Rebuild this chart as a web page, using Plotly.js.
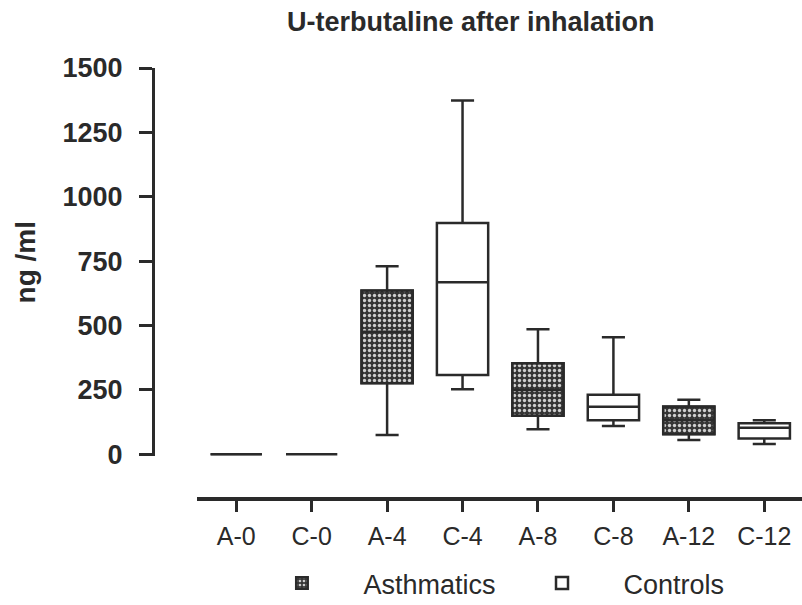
<!DOCTYPE html>
<html>
<head>
<meta charset="utf-8">
<script src="https://cdn.plot.ly/plotly-3.0.1.min.js"></script>
<style>html,body{margin:0;padding:0;background:#fff;}#chart{width:802px;height:605px;}</style>
</head>
<body>
<div id="chart"></div>
<script>
// Category order on the x axis
var categories = ['A-0', 'C-0', 'A-4', 'C-4', 'A-8', 'C-8', 'A-12', 'C-12'];
var yTicks = [0, 250, 500, 750, 1000, 1250, 1500];

// Asthmatics (ng/ml)
var asthX = ['A-0', 'A-4', 'A-8', 'A-12'];
var asthLower = [0, 75, 97, 56];
var asthQ1 = [0, 276, 150, 78];
var asthMedian = [0, 476, 250, 132];
var asthQ3 = [0, 636, 354, 186];
var asthUpper = [0, 730, 486, 212];

// Controls (ng/ml)
var ctrlX = ['C-0', 'C-4', 'C-8', 'C-12'];
var ctrlLower = [0, 253, 110, 40];
var ctrlQ1 = [0, 308, 132, 62];
var ctrlMedian = [0, 668, 185, 103];
var ctrlQ3 = [0, 898, 231, 121];
var ctrlUpper = [0, 1374, 455, 132];

var ink = '#2a2a2a';
var boxW = 0.68;
var fontFam = '"Liberation Sans", Arial, sans-serif';

var asthIQR = asthQ3.map(function (v, i) { return v - asthQ1[i]; });

var traces = [
  {
    type: 'bar', name: 'Asthmatics', x: asthX, y: asthIQR, base: asthQ1,
    width: boxW, showlegend: true, hoverinfo: 'skip',
    marker: {
      color: '#353535',
      line: {color: ink, width: 2},
      pattern: {shape: '.', bgcolor: '#353535', fgcolor: '#cfcfcf', size: 5, solidity: 0.35, fillmode: 'replace'}
    }
  },
  {
    type: 'box', name: 'Asthmatics', x: asthX, q1: asthQ1, median: asthMedian, q3: asthQ3,
    lowerfence: asthLower, upperfence: asthUpper, width: boxW, whiskerwidth: 0.45,
    fillcolor: 'rgba(0,0,0,0)', line: {color: ink, width: 2.5}, showlegend: false, hoverinfo: 'skip'
  },
  {
    type: 'box', name: 'Controls', x: ctrlX, q1: ctrlQ1, median: ctrlMedian, q3: ctrlQ3,
    lowerfence: ctrlLower, upperfence: ctrlUpper, width: boxW, whiskerwidth: 0.45,
    fillcolor: '#ffffff', line: {color: ink, width: 2.5}, showlegend: true, hoverinfo: 'skip'
  }
];

var layout = {
  width: 802, height: 605,
  margin: {l: 153, r: 0, t: 68, b: 106, autoexpand: false},
  paper_bgcolor: '#ffffff', plot_bgcolor: '#ffffff',
  font: {family: fontFam, color: ink},
  title: {
    text: 'U-terbutaline after inhalation',
    font: {family: fontFam, size: 27, weight: 'bold', color: ink},
    x: 0.587, xref: 'container', xanchor: 'center',
    y: 0.965, yref: 'container', yanchor: 'middle'
  },
  xaxis: {
    type: 'category', categoryorder: 'array', categoryarray: categories,
    tickvals: categories, ticktext: categories,
    range: [-0.52, 7.5], domain: [0.0678, 1],
    anchor: 'free', position: 0,
    showline: true, linecolor: ink, linewidth: 4,
    ticks: 'outside', ticklen: 11, tickwidth: 3, tickcolor: ink,
    showgrid: false, zeroline: false,
    tickfont: {family: fontFam, size: 25, color: ink},
    ticklabelstandoff: 3
  },
  yaxis: {
    range: [-8, 1500], domain: [0.0988, 1],
    anchor: 'free', position: 0,
    tickvals: yTicks, ticktext: yTicks.map(String),
    showline: true, linecolor: ink, linewidth: 3,
    ticks: 'outside', ticklen: 13, tickwidth: 3, tickcolor: ink,
    showgrid: false, zeroline: false,
    tickfont: {family: fontFam, size: 27, weight: 'bold', color: ink},
    ticklabelstandoff: 11,
    title: {text: 'ng /ml', font: {family: fontFam, size: 28, weight: 'bold', color: ink}, standoff: 17}
  },
  showlegend: true,
  legend: {
    orientation: 'h', x: 0.5115, xanchor: 'center', y: -0.196, yanchor: 'middle',
    font: {family: fontFam, size: 27, color: ink},
    itemwidth: 113, traceorder: 'normal', bgcolor: 'rgba(0,0,0,0)'
  },
  boxmode: 'overlay', barmode: 'overlay'
};

Plotly.newPlot('chart', traces, layout, {staticPlot: true, displayModeBar: false});
</script>
</body>
</html>
